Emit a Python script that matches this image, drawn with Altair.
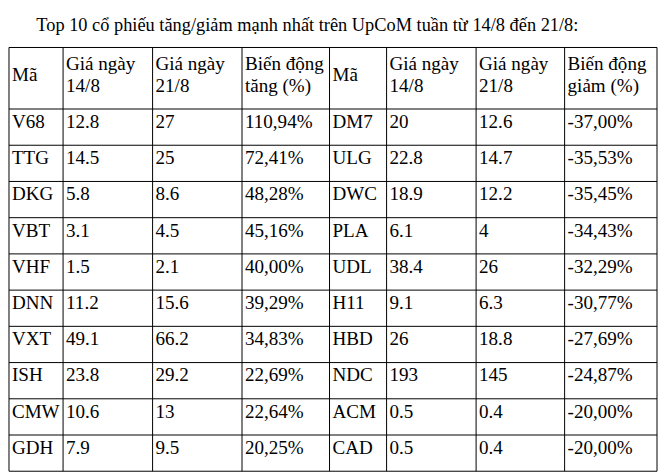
import altair as alt
import pandas as pd

TITLE = "Top 10 cổ phiếu tăng/giảm mạnh nhất trên UpCoM tuần từ 14/8 đến 21/8:"

headers = ["Mã", "Giá ngày\n14/8", "Giá ngày\n21/8", "Biến động\ntăng (%)",
           "Mã", "Giá ngày\n14/8", "Giá ngày\n21/8", "Biến động\ngiảm (%)"]

up_codes = ["V68", "TTG", "DKG", "VBT", "VHF", "DNN", "VXT", "ISH", "CMW", "GDH"]
up_p14 = ["12.8", "14.5", "5.8", "3.1", "1.5", "11.2", "49.1", "23.8", "10.6", "7.9"]
up_p21 = ["27", "25", "8.6", "4.5", "2.1", "15.6", "66.2", "29.2", "13", "9.5"]
up_pct = [110.94, 72.41, 48.28, 45.16, 40.00, 39.29, 34.83, 22.69, 22.64, 20.25]

down_codes = ["DM7", "ULG", "DWC", "PLA", "UDL", "H11", "HBD", "NDC", "ACM", "CAD"]
down_p14 = ["20", "22.8", "18.9", "6.1", "38.4", "9.1", "26", "193", "0.5", "0.5"]
down_p21 = ["12.6", "14.7", "12.2", "4", "26", "6.3", "18.8", "145", "0.4", "0.4"]
down_pct = [-37.00, -35.53, -35.45, -34.43, -32.29, -30.77, -27.69, -24.87, -20.00, -20.00]

# table layout (column / row boundary positions in px inside the plot)
col_edges = [0, 54.5, 144.7, 234.8, 323, 380.5, 470.7, 559.9, 653]
row_edges = [0, 62] + [62 + 36.5 * i for i in range(1, 11)]

FONT = "Liberation Serif"
FS = 19.2
TFS = 18.5


def pct(v):
    return f"{v:.2f}".replace(".", ",") + "%"


columns = [up_codes, up_p14, up_p21, [pct(v) for v in up_pct],
           down_codes, down_p14, down_p21, [pct(v) for v in down_pct]]

cells = []
for c, col in enumerate(columns):
    for r, v in enumerate(col):
        cells.append({"col": c, "row": r + 1, "text": v})
cells_df = pd.DataFrame(cells)

head_multi = pd.DataFrame([{"col": c, "row": 0, "text": h.split("\n")}
                           for c, h in enumerate(headers) if "\n" in h])
head_single = pd.DataFrame([{"col": c, "row": 0, "text": h}
                            for c, h in enumerate(headers) if "\n" not in h])

hlines = pd.DataFrame({"row": list(range(len(row_edges))), "c0": 0, "c1": len(col_edges) - 1})
vlines = pd.DataFrame({"col": list(range(len(col_edges))), "r0": 0, "r1": len(row_edges) - 1})

xscale = alt.Scale(domain=list(range(len(col_edges))), range=col_edges)
yscale = alt.Scale(domain=list(range(len(row_edges))), range=row_edges)

h_rules = alt.Chart(hlines).mark_rule(color="black", strokeWidth=1).encode(
    x=alt.X("c0:Q", scale=xscale, axis=None),
    x2="c1:Q",
    y=alt.Y("row:Q", scale=yscale, axis=None),
)
v_rules = alt.Chart(vlines).mark_rule(color="black", strokeWidth=1).encode(
    x=alt.X("col:Q", scale=xscale, axis=None),
    y=alt.Y("r0:Q", scale=yscale, axis=None),
    y2="r1:Q",
)

body = alt.Chart(cells_df).mark_text(
    align="left", baseline="alphabetic", dx=3, dy=19, font=FONT, fontSize=FS, color="black"
).encode(
    x=alt.X("col:Q", scale=xscale, axis=None),
    y=alt.Y("row:Q", scale=yscale, axis=None),
    text="text:N",
)

hdr2 = alt.Chart(head_multi).mark_text(
    align="left", baseline="alphabetic", dx=3, dy=23, lineHeight=21.5,
    font=FONT, fontSize=FS, color="black"
).encode(
    x=alt.X("col:Q", scale=xscale, axis=None),
    y=alt.Y("row:Q", scale=yscale, axis=None),
    text="text",
)

hdr1 = alt.Chart(head_single).mark_text(
    align="left", baseline="alphabetic", dx=3, dy=33.5, font=FONT, fontSize=FS, color="black"
).encode(
    x=alt.X("col:Q", scale=xscale, axis=None),
    y=alt.Y("row:Q", scale=yscale, axis=None),
    text="text:N",
)

chart = alt.layer(h_rules, v_rules, body, hdr2, hdr1).properties(
    width=653,
    height=427,
    padding={"left": 0, "top": 6, "right": 0, "bottom": 0},
    title=alt.TitleParams(TITLE, anchor="start", dx=28, font=FONT, fontSize=TFS,
                          fontWeight="normal", color="black", offset=13),
).configure_view(stroke=None)

chart.save("out.html", embed_options={"renderer": "svg", "actions": False})
